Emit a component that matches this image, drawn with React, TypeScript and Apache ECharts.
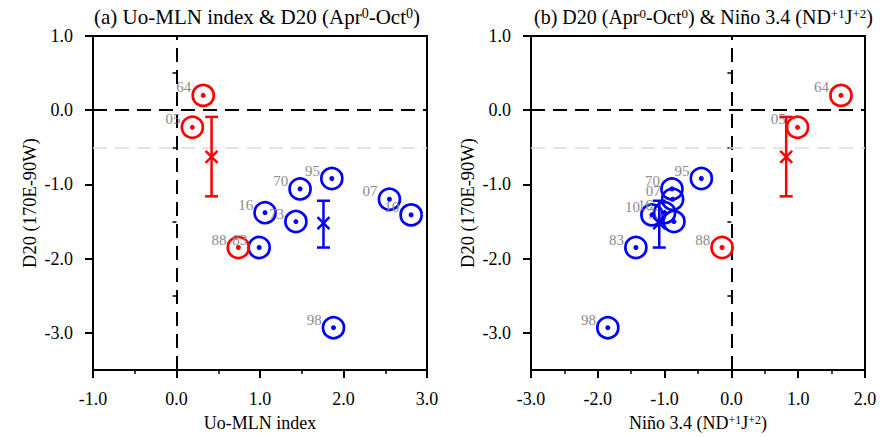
import React, { useEffect, useRef } from 'react';
import * as echarts from 'echarts';

// Event years (labels) per group
const redEvents = ['64', '05', '88'];
const blueEvents = ['70', '95', '16', '73', '83', '07', '10', '98'];

// D20 (170E-90W) values, shared y for both panels
const redD20 = [0.2, -0.23, -1.85];
const blueD20 = [-1.06, -0.92, -1.38, -1.5, -1.85, -1.2, -1.41, -2.93];

// Uo-MLN index (panel a x)
const redUo = [0.32, 0.19, 0.74];
const blueUo = [1.48, 1.86, 1.06, 1.43, 0.99, 2.55, 2.81, 1.88];

// Nino 3.4 (panel b x)
const redNino = [1.64, 0.99, -0.14];
const blueNino = [-0.89, -0.45, -1.0, -0.86, -1.43, -0.88, -1.19, -1.85];

// Group means and error bars [red, blue]
const meanUo = [0.42, 1.76];
const meanNino = [0.82, -1.08];
const meanD20 = [-0.63, -1.52];
const errLow = [-1.16, -1.85];
const errHigh = [-0.09, -1.22];
const groupColors = ['#ff0000', '#0000ff'];

const yMajorTicks = [-3, -2, -1, 0, 1];
const yMinorTicks = [-3.5, -2.5, -1.5, -0.5, 0.5];

const FONT = '"Liberation Serif", "Times New Roman", serif';
const LABEL_GRAY = '#8c8c8c';

export default function App() {
  const ref = useRef<HTMLDivElement>(null);

  useEffect(() => {
    if (!ref.current) return;
    const chart = echarts.init(ref.current, undefined, { renderer: 'svg' });

    const grids = [
      { left: 93, top: 36, width: 334, height: 335 },
      { left: 531, top: 36, width: 334, height: 335 },
    ];

    const supRich = (size: number, pad: number) => ({
      sup: { fontSize: size, fontFamily: FONT, color: '#000', verticalAlign: 'top', padding: [0, 0, pad, 0] },
    });

    const xAxisBase = (gridIndex: number, min: number, max: number, name: string) => ({
      type: 'value',
      gridIndex,
      min,
      max,
      interval: 1,
      name,
      nameLocation: 'middle',
      nameGap: 44,
      nameTextStyle: { fontSize: 18, fontFamily: FONT, color: '#000', rich: supRich(12, 5) },
      axisLine: { show: true, onZero: false, lineStyle: { color: '#000', width: 2 } },
      axisTick: { show: true, length: 8, lineStyle: { color: '#000', width: 2 } },
      minorTick: { show: true, splitNumber: 2, length: 4, lineStyle: { color: '#000', width: 1.5 } },
      axisLabel: { fontSize: 18, fontFamily: FONT, color: '#000', margin: 20, formatter: (v: number) => v.toFixed(1) },
      splitLine: { show: false },
      minorSplitLine: { show: false },
    });

    const yAxisMain = (gridIndex: number) => ({
      type: 'value',
      gridIndex,
      min: -3.5,
      max: 1,
      interval: 0.5,
      name: 'D20 (170E-90W)',
      nameLocation: 'middle',
      nameGap: 54,
      nameTextStyle: { fontSize: 18.5, fontFamily: FONT, color: '#000' },
      axisLine: { show: true, onZero: false, lineStyle: { color: '#000', width: 2 } },
      axisTick: { show: true, length: 8, customValues: yMajorTicks, lineStyle: { color: '#000', width: 2 } },
      axisLabel: {
        fontSize: 18, fontFamily: FONT, color: '#000', margin: 20,
        customValues: yMajorTicks, formatter: (v: number) => v.toFixed(1),
      },
      splitLine: { show: false },
    });

    const yAxisMinor = (gridIndex: number) => ({
      type: 'value',
      gridIndex,
      min: -3.5,
      max: 1,
      interval: 0.5,
      position: 'left',
      axisLine: { show: false },
      axisTick: { show: true, length: 4, customValues: yMinorTicks, lineStyle: { color: '#000', width: 1.5 } },
      axisLabel: { show: false },
      splitLine: { show: false },
    });

    const circleSeries = (xi: number, yi: number, xs: number[], ys: number[], names: string[], color: string) => ({
      type: 'scatter',
      xAxisIndex: xi,
      yAxisIndex: yi,
      symbol: 'circle',
      symbolSize: 21,
      z: 5,
      itemStyle: { color: 'rgba(0,0,0,0)', borderColor: color, borderWidth: 2.7, opacity: 1 },
      label: {
        show: true,
        position: 'left',
        distance: 0,
        offset: [0, -8],
        formatter: (p: any) => p.name,
        fontSize: 15,
        fontFamily: FONT,
        color: LABEL_GRAY,
      },
      emphasis: { disabled: true },
      data: xs.map((x, i) => ({ name: names[i], value: [x, ys[i]] })),
    });

    const dotSeries = (xi: number, yi: number, xs: number[], ys: number[], color: string) => ({
      type: 'scatter',
      xAxisIndex: xi,
      yAxisIndex: yi,
      symbol: 'circle',
      symbolSize: 5,
      z: 6,
      silent: true,
      itemStyle: { color, opacity: 1 },
      data: xs.map((x, i) => [x, ys[i]]),
    });

    const refLineSeries = (xi: number, yi: number) => ({
      type: 'scatter',
      xAxisIndex: xi,
      yAxisIndex: yi,
      z: 1,
      data: [],
      markLine: {
        silent: true,
        symbol: 'none',
        label: { show: false },
        animation: false,
        data: [
          { xAxis: 0, lineStyle: { color: '#000', width: 2, type: [14, 8] } },
          { yAxis: 0, lineStyle: { color: '#000', width: 2, type: [14, 8] } },
          { yAxis: -0.5, lineStyle: { color: '#dcdcdc', width: 1.5, type: [14, 8] } },
        ],
      },
    });

    const meanSeries = (xi: number, yi: number, xs: number[]) => ({
      type: 'custom',
      xAxisIndex: xi,
      yAxisIndex: yi,
      z: 7,
      silent: true,
      encode: { x: 0, y: [1, 2, 3] },
      renderItem: (params: any, api: any) => {
        const color = groupColors[params.dataIndex];
        const x = api.value(0);
        const pm = api.coord([x, api.value(1)]);
        const plo = api.coord([x, api.value(2)]);
        const phi = api.coord([x, api.value(3)]);
        const cap = 6.5;
        const cr = 6;
        const style = { stroke: color, lineWidth: 2.5, fill: 'none' };
        return {
          type: 'group',
          children: [
            { type: 'line', shape: { x1: pm[0], y1: plo[1], x2: pm[0], y2: phi[1] }, style },
            { type: 'line', shape: { x1: pm[0] - cap, y1: plo[1], x2: pm[0] + cap, y2: plo[1] }, style },
            { type: 'line', shape: { x1: pm[0] - cap, y1: phi[1], x2: pm[0] + cap, y2: phi[1] }, style },
            { type: 'line', shape: { x1: pm[0] - cr, y1: pm[1] - cr, x2: pm[0] + cr, y2: pm[1] + cr }, style },
            { type: 'line', shape: { x1: pm[0] - cr, y1: pm[1] + cr, x2: pm[0] + cr, y2: pm[1] - cr }, style },
          ],
        };
      },
      data: xs.map((x, i) => [x, meanD20[i], errLow[i], errHigh[i]]),
    });

    const titleStyleA = { fontSize: 21, fontWeight: 'normal', fontFamily: FONT, color: '#000', rich: supRich(14, 7) };
    const titleStyleB = { fontSize: 20, fontWeight: 'normal', fontFamily: FONT, color: '#000', rich: supRich(13, 7) };

    const option: any = {
      animation: false,
      backgroundColor: '#ffffff',
      title: [
        {
          text: '(a) Uo-MLN index & D20 (Apr{sup|0}-Oct{sup|0})',
          left: 89,
          top: 1,
          textStyle: titleStyleA,
        },
        {
          text: '(b) D20 (Apr{sup|0}-Oct{sup|0}) & Niño 3.4 (ND{sup|+1}J{sup|+2})',
          left: 529,
          top: 2,
          textStyle: titleStyleB,
        },
      ],
      grid: grids.map((g) => ({ ...g, show: true, borderColor: '#000', borderWidth: 2, backgroundColor: 'transparent' })),
      xAxis: [
        xAxisBase(0, -1, 3, 'Uo-MLN index'),
        xAxisBase(1, -3, 2, 'Niño 3.4 (ND{sup|+1}J{sup|+2})'),
      ],
      yAxis: [yAxisMain(0), yAxisMain(1), yAxisMinor(0), yAxisMinor(1)],
      series: [
        refLineSeries(0, 0),
        refLineSeries(1, 1),
        circleSeries(0, 0, blueUo, blueD20, blueEvents, groupColors[1]),
        circleSeries(0, 0, redUo, redD20, redEvents, groupColors[0]),
        dotSeries(0, 0, blueUo, blueD20, groupColors[1]),
        dotSeries(0, 0, redUo, redD20, groupColors[0]),
        meanSeries(0, 0, meanUo),
        circleSeries(1, 1, blueNino, blueD20, blueEvents, groupColors[1]),
        circleSeries(1, 1, redNino, redD20, redEvents, groupColors[0]),
        dotSeries(1, 1, blueNino, blueD20, groupColors[1]),
        dotSeries(1, 1, redNino, redD20, groupColors[0]),
        meanSeries(1, 1, meanNino),
      ],
    };

    chart.setOption(option);
    return () => chart.dispose();
  }, []);

  return (
    <div
      ref={ref}
      style={{ position: 'fixed', left: 0, top: 0, width: 880, height: 437, background: '#fff' }}
    />
  );
}
